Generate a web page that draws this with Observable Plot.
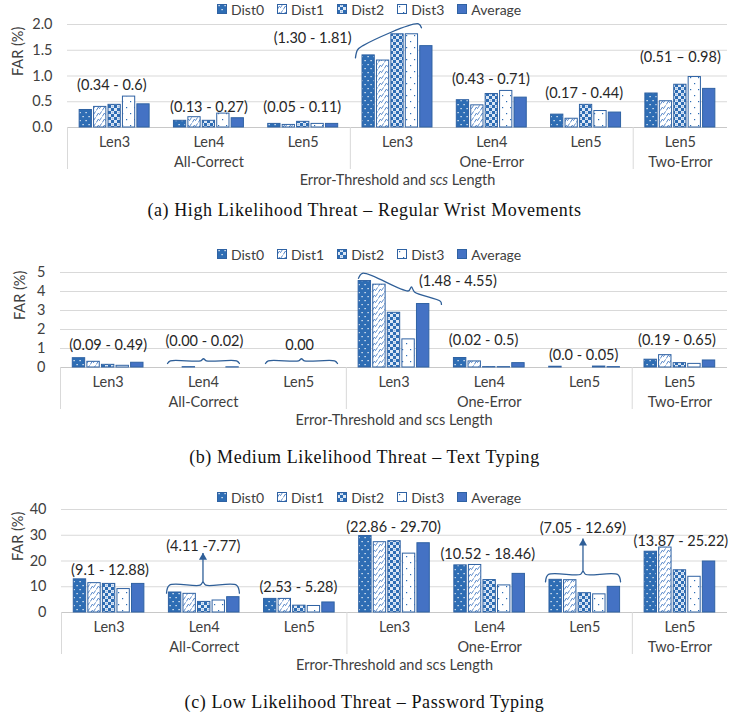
<!DOCTYPE html>
<html><head><meta charset="utf-8">
<script src="https://cdn.jsdelivr.net/npm/d3@7"></script>
<script src="https://cdn.jsdelivr.net/npm/@observablehq/plot@0.6"></script>
<style>
body{margin:0;width:729px;height:717px;position:relative;background:#fff;overflow:hidden;font-family:Lato,sans-serif;}
.legend{position:absolute;left:217px;height:16px;display:flex;align-items:center;font-size:14px;color:#404040;}
.legend .item{display:flex;align-items:center;margin-right:13px;}
.legend svg{margin-right:4px;display:block;}
.caption{position:absolute;left:0;width:729px;text-align:center;font-family:"Liberation Serif","Times New Roman",serif;font-size:18px;letter-spacing:0.6px;color:#111;line-height:20px;}
.chart{position:absolute;left:0;}
</style></head><body>
<svg width="0" height="0" style="position:absolute;left:0;top:0">
<defs>
<pattern id="pDist0" patternUnits="userSpaceOnUse" width="6" height="8">
  <rect width="6" height="8" fill="#2e6db4"/>
  <rect x="1.5" y="1" width="1.2" height="1.2" fill="#ffffff"/>
  <rect x="4.5" y="5" width="1.2" height="1.2" fill="#ffffff"/>
</pattern>
<pattern id="pDist1" patternUnits="userSpaceOnUse" width="6" height="6">
  <rect width="6" height="6" fill="#ffffff"/>
  <path d="M0.3,5.5 L2.3,2.2 L3.5,3.6 L5.6,0.4" stroke="#4a7ec4" stroke-width="0.9" fill="none"/>
</pattern>
<pattern id="pDist2" patternUnits="userSpaceOnUse" width="6" height="6">
  <rect width="6" height="6" fill="#dce7f5"/>
  <rect x="0" y="0" width="3" height="3" fill="#2e6db4"/>
  <rect x="3" y="3" width="3" height="3" fill="#2e6db4"/>
  <circle cx="4.5" cy="1.5" r="0.8" fill="#9dbbe2"/>
</pattern>
<pattern id="pDist3" patternUnits="userSpaceOnUse" width="8" height="12">
  <rect width="8" height="12" fill="#ffffff"/>
  <rect x="2" y="2" width="1.2" height="1.2" fill="#2e6db4"/>
  <rect x="6" y="8" width="1.2" height="1.2" fill="#2e6db4"/>
</pattern>
<pattern id="pAverage" patternUnits="userSpaceOnUse" width="4" height="4">
  <rect width="4" height="4" fill="#4472c4"/>
</pattern>
</defs></svg>
<script>
// ---------- data ----------
const series = ["Dist0", "Dist1", "Dist2", "Dist3", "Average"];
const categories = ["Len3", "Len4", "Len5", "Len3", "Len4", "Len5", "Len5"];
const groupNames = ["All-Correct", "One-Error", "Two-Error"];
const groupStarts = [0, 3, 6];
const groupEnds = [3, 6, 7];
const axisTitle = "Error-Threshold and scs Length";
const yTitle = "FAR (%)";

// (a) High Likelihood Threat – Regular Wrist Movements
const wristDist0 = [0.34, 0.13, 0.07, 1.40, 0.53, 0.25, 0.66];
const wristDist1 = [0.40, 0.20, 0.05, 1.30, 0.43, 0.17, 0.51];
const wristDist2 = [0.44, 0.13, 0.11, 1.81, 0.65, 0.44, 0.83];
const wristDist3 = [0.60, 0.27, 0.07, 1.81, 0.71, 0.32, 0.98];
const wristAverage = [0.45, 0.18, 0.07, 1.58, 0.58, 0.29, 0.75];
const wristTicks = [0, 0.5, 1, 1.5, 2];

// (b) Medium Likelihood Threat – Text Typing
const textDist0 = [0.49, 0.00, 0.00, 4.55, 0.50, 0.04, 0.41];
const textDist1 = [0.30, 0.02, 0.00, 4.36, 0.32, 0.00, 0.65];
const textDist2 = [0.14, 0.00, 0.00, 2.88, 0.02, 0.00, 0.23];
const textDist3 = [0.09, 0.00, 0.00, 1.48, 0.02, 0.05, 0.19];
const textAverage = [0.25, 0.01, 0.00, 3.34, 0.23, 0.02, 0.37];
const textTicks = [0, 1, 2, 3, 4, 5];

// (c) Low Likelihood Threat – Password Typing
const pwdDist0 = [12.88, 7.77, 5.28, 29.70, 18.30, 12.69, 23.60];
const pwdDist1 = [11.40, 7.25, 5.28, 27.30, 18.46, 12.55, 25.22];
const pwdDist2 = [11.10, 4.11, 2.65, 27.70, 12.60, 7.50, 16.40];
const pwdDist3 = [9.10, 4.66, 2.53, 22.86, 10.52, 7.05, 13.87];
const pwdAverage = [11.10, 5.95, 3.90, 26.90, 15.00, 9.97, 19.80];
const pwdTicks = [0, 10, 20, 30, 40];

// annotations (data coordinates: x = category index, y = FAR)
const wristLabels = [
  {x: 0.47, y: 0.81, text: "(0.34 - 0.6)"},
  {x: 1.50, y: 0.40, text: "(0.13 - 0.27)"},
  {x: 2.49, y: 0.40, text: "(0.05 - 0.11)"},
  {x: 2.60, y: 1.74, text: "(1.30 - 1.81)"},
  {x: 4.49, y: 0.93, text: "(0.43 - 0.71)"},
  {x: 5.48, y: 0.66, text: "(0.17 - 0.44)"},
  {x: 6.50, y: 1.36, text: "(0.51 \u2013 0.98)"}
];
const wristSlanted = [[[3.054, 1.353], [3.076, 1.509], [3.129, 1.586], [3.723, 2.014], [3.754, 1.936]]];

const textLabels = [
  {x: 0.50, y: 1.16, text: "(0.09 - 0.49)"},
  {x: 1.51, y: 1.36, text: "(0.00 - 0.02)"},
  {x: 2.51, y: 1.16, text: "0.00"},
  {x: 4.17, y: 4.53, text: "(1.48 - 4.55)"},
  {x: 4.44, y: 1.41, text: "(0.02 - 0.5)"},
  {x: 5.49, y: 0.62, text: "(0.0 - 0.05)"},
  {x: 6.47, y: 1.45, text: "(0.19 - 0.65)"}
];
const textBraces = [
  {x1: 1.123, x2: 1.878, yEnd: 0.21, yLine: 0.35, yTip: 0.46},
  {x1: 2.151, x2: 2.907, yEnd: 0.21, yLine: 0.35, yTip: 0.46}
];
const textSlanted = [[[3.127, 4.69], [3.169, 4.96], [3.652, 4.03], [3.683, 4.24], [3.715, 3.98], [3.988, 3.48], [3.998, 3.32]]];

const pwdLabels = [
  {x: 0.51, y: 16.4, text: "(9.1 - 12.88)"},
  {x: 1.49, y: 25.7, text: "(4.11 -7.77)"},
  {x: 2.49, y: 9.7, text: "(2.53 - 5.28)"},
  {x: 3.49, y: 33.2, text: "(22.86 - 29.70)"},
  {x: 4.48, y: 22.5, text: "(10.52 - 18.46)"},
  {x: 5.48, y: 32.8, text: "(7.05 - 12.69)"},
  {x: 6.51, y: 27.7, text: "(13.87 - 25.22)"}
];
const pwdBraces = [
  {x1: 1.104, x2: 1.870, yEnd: 7.5, yLine: 10.6, yTip: 11.8},
  {x1: 5.087, x2: 5.876, yEnd: 11.9, yLine: 14.75, yTip: 16.0}
];
const pwdArrows = [
  {x: 1.487, from: 11.8, to: 23.1},
  {x: 5.481, from: 16.0, to: 28.7}
];

// ---------- drawing ----------
const blue = "#2f62a3";
const braceColor = "#2f5f98";

function buildPanel(cfg) {
  const data = [];
  series.forEach((s, j) => cfg.values[j].forEach((v, i) => data.push({i, j, series: s, value: v})));
  const barW = 0.13, barStep = 0.153;
  const bx1 = d => d.i + 0.5 + (d.j - 2) * barStep - barW / 2;
  const bx2 = d => bx1(d) + barW;
  const bracePts = [];
  (cfg.braces || []).forEach((b, k) => {
    const xm = (b.x1 + b.x2) / 2, e = 0.03;
    [[b.x1, b.yEnd], [b.x1 + e, b.yLine], [xm - e, b.yLine], [xm, b.yTip], [xm + e, b.yLine], [b.x2 - e, b.yLine], [b.x2, b.yEnd]]
      .forEach(([x, y]) => bracePts.push({id: "h" + k, x, y}));
  });
  (cfg.slanted || []).forEach((pts, k) => pts.forEach(([x, y]) => bracePts.push({id: "s" + k, x, y})));
  const arrows = cfg.arrows || [];
  const groups = groupNames.map((g, k) => ({x: (groupStarts[k] + groupEnds[k]) / 2, label: g}));
  const seps = groupStarts;
  const ymax = cfg.ticks[cfg.ticks.length - 1];

  const svg = Plot.plot({
    width: 729,
    height: cfg.height,
    marginTop: 9,
    marginBottom: 64,
    marginLeft: cfg.marginLeft,
    marginRight: 2,
    style: {fontFamily: "Lato, sans-serif", fontSize: "14.5px", color: "#404040", background: "none", overflow: "visible"},
    x: {domain: [0, 7], ticks: categories.map((c, i) => i + 0.5), tickFormat: d => categories[Math.floor(d)], tickSize: 0, tickPadding: 9, label: null},
    y: {domain: [0, ymax], ticks: cfg.ticks, tickFormat: cfg.format, tickSize: 0, tickPadding: 15, label: null},
    color: {type: "ordinal", domain: series, range: series.map(s => `url(#p${s})`)},
    marks: [
      Plot.ruleY(cfg.ticks.filter(t => t > 0), {stroke: "#d9d9d9", strokeWidth: 1}),
      Plot.ruleY([0], {stroke: "#c8c8c8", strokeWidth: 1}),
      Plot.ruleX(seps, {x: d => d, y1: () => 0, y2: () => 0, insetBottom: -42, stroke: "#d9d9d9"}),
      Plot.rect(data, {x1: bx1, x2: bx2, y1: () => 0, y2: "value", fill: "series", stroke: blue, strokeWidth: 1}),
      Plot.line(bracePts, {x: "x", y: "y", z: "id", stroke: braceColor, strokeWidth: 1.3, curve: "catmull-rom"}),
      Plot.link(arrows, {x1: "x", x2: "x", y1: "from", y2: "to", stroke: braceColor, strokeWidth: 1.3}),
      Plot.dot(arrows, {x: "x", y: "to", symbol: "triangle", r: 3, fill: braceColor, stroke: "none", dy: 4.5}),
      Plot.text(cfg.labels, {x: "x", y: "y", text: "text", fill: "#262626", fontSize: 14.5, lineAnchor: "middle"}),
      Plot.text(groups, {x: "x", frameAnchor: "bottom", dy: 35, text: "label", fill: "#404040", lineAnchor: "middle"}),
      Plot.text([axisTitle], {frameAnchor: "bottom", dy: 53, text: d => d, fill: "#404040", lineAnchor: "middle"}),
      Plot.text([yTitle], {frameAnchor: "left", rotate: -90, dx: cfg.yLabelDx, text: d => d, fill: "#404040", lineAnchor: "middle"})
    ]
  });
  svg.classList.add("chart");
  svg.style.top = cfg.top + "px";
  if (cfg.italicScs) {
    svg.querySelectorAll("text").forEach(t => {
      if (t.textContent === axisTitle) {
        t.textContent = "";
        const ns = "http://www.w3.org/2000/svg";
        const a = document.createElementNS(ns, "tspan"); a.textContent = "Error-Threshold and ";
        const b = document.createElementNS(ns, "tspan"); b.textContent = "scs"; b.setAttribute("font-style", "italic");
        const c = document.createElementNS(ns, "tspan"); c.textContent = " Length";
        t.append(a, b, c);
      }
    });
  }
  document.body.appendChild(svg);

  const legend = document.createElement("div");
  legend.className = "legend";
  legend.style.top = cfg.legendTop + "px";
  series.forEach(s => {
    const item = document.createElement("div");
    item.className = "item";
    item.innerHTML = `<svg width="10" height="10"><rect x="0.5" y="0.5" width="9" height="9" fill="url(#p${s})" stroke="${blue}" stroke-width="1"/></svg><span>${s}</span>`;
    legend.appendChild(item);
  });
  document.body.appendChild(legend);

  const cap = document.createElement("div");
  cap.className = "caption";
  cap.style.top = cfg.captionTop + "px";
  cap.textContent = cfg.caption;
  document.body.appendChild(cap);
}

buildPanel({
  values: [wristDist0, wristDist1, wristDist2, wristDist3, wristAverage],
  ticks: wristTicks, format: d3.format(".1f"),
  marginLeft: 67, height: 176, top: 15, legendTop: 1, yLabelDx: -49,
  labels: wristLabels, slanted: wristSlanted, italicScs: true,
  captionTop: 200, caption: "(a) High Likelihood Threat \u2013 Regular Wrist Movements"
});
buildPanel({
  values: [textDist0, textDist1, textDist2, textDist3, textAverage],
  ticks: textTicks, format: d3.format("d"),
  marginLeft: 60, height: 168, top: 263, legendTop: 246, yLabelDx: -40,
  labels: textLabels, braces: textBraces, slanted: textSlanted,
  captionTop: 447, caption: "(b) Medium Likelihood Threat \u2013 Text Typing"
});
buildPanel({
  values: [pwdDist0, pwdDist1, pwdDist2, pwdDist3, pwdAverage],
  ticks: pwdTicks, format: d3.format("d"),
  marginLeft: 61, height: 176, top: 500, legendTop: 489, yLabelDx: -43,
  labels: pwdLabels, braces: pwdBraces, arrows: pwdArrows,
  captionTop: 692, caption: "(c) Low Likelihood Threat \u2013 Password Typing"
});
</script>
</body></html>
